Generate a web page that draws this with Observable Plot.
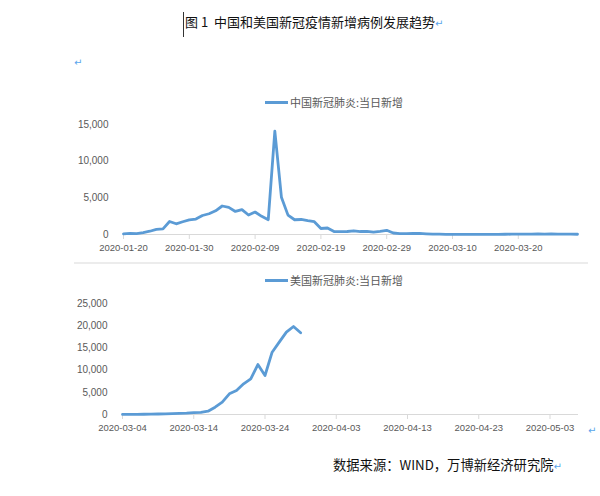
<!DOCTYPE html>
<html>
<head>
<meta charset="utf-8">
<script src="https://cdn.jsdelivr.net/npm/d3@7"></script>
<script src="https://cdn.jsdelivr.net/npm/@observablehq/plot@0.6"></script>
<style>
  html, body { margin: 0; padding: 0; background: #fff; }
  #page { position: relative; width: 600px; height: 496px; overflow: hidden; font-family: "Noto Sans CJK SC", "Noto Sans", sans-serif; }
  .abs { position: absolute; white-space: pre; }
  .para { color: #5aa5ec; font-family: "DejaVu Sans", sans-serif; font-size: 10px; }
  .legline { position: absolute; height: 3px; background: #5b9bd5; }
  .legtext { position: absolute; font-size: 11px; color: #595959; line-height: 14px; white-space: pre; }
</style>
</head>
<body>
<div id="page"></div>
<script>
// ---------- data ----------
const titleText = "图 1  中国和美国新冠疫情新增病例发展趋势";
const sourceText = "数据来源：WIND，万博新经济研究院";
const chinaLabel = "中国新冠肺炎:当日新增";
const usLabel = "美国新冠肺炎:当日新增";

// China daily new cases, consecutive days from 2020-01-20
const chinaStart = "2020-01-20";
const chinaEnd = "2020-03-29";
const chinaNew = [
  77, 149, 131, 259, 444, 688, 769, 1771, 1459, 1737,
  1982, 2102, 2590, 2829, 3235, 3887, 3694, 3143, 3399, 2656,
  3062, 2478, 2015, 14108, 5090, 2641, 2009, 2048, 1886, 1749,
  820, 889, 397, 400, 409, 508, 406, 433, 327, 427,
  573, 202, 125, 119, 139, 143, 99, 44, 40, 19,
  24, 15, 8, 11, 20, 16, 21, 13, 34, 39,
  41, 46, 39, 78, 47, 67, 55, 54, 45, 31
];
const chinaTicks = ["2020-01-20", "2020-01-30", "2020-02-09", "2020-02-19", "2020-02-29", "2020-03-10", "2020-03-20"];
const chinaYTicks = [0, 5000, 10000, 15000];

// US daily new cases, consecutive days from 2020-03-04
const usStart = "2020-03-04";
const usEnd = "2020-05-07";
const usNew = [
  20, 30, 50, 60, 80, 110, 130, 200, 250, 300,
  420, 500, 740, 1650, 2770, 4660, 5400, 6910, 8040, 11260,
  8780, 14030, 16290, 18540, 19820, 18400
];
const usTicks = ["2020-03-04", "2020-03-14", "2020-03-24", "2020-04-03", "2020-04-13", "2020-04-23", "2020-05-03"];
const usYTicks = [0, 5000, 10000, 15000, 20000, 25000];

// ---------- helpers ----------
const parse = d3.utcParse("%Y-%m-%d");
const toRows = (start, values) => values.map((v, i) => ({date: d3.utcDay.offset(parse(start), i), value: v}));

function makeChart({rows, domain, ticks, yTicks, yMax, height, marginTop, marginBottom, marginLeft, marginRight}) {
  return Plot.plot({
    width: 600, height, marginTop, marginBottom, marginLeft, marginRight,
    style: {fontFamily: "'Liberation Sans', Arial, sans-serif", fontSize: "10px", color: "#595959", background: "transparent", overflow: "visible"},
    x: {type: "utc", domain: [parse(domain[0]), parse(domain[1])]},
    y: {domain: [0, yMax]},
    marks: [
      Plot.ruleY([0], {stroke: "#d9d9d9", strokeWidth: 1.2}),
      Plot.axisX(ticks.map(parse), {tickFormat: d3.utcFormat("%Y-%m-%d"), tickSize: 5, tickPadding: 5, stroke: "#d9d9d9", fill: "#595959", fontSize: 9.5, label: null}),
      Plot.axisY(yTicks, {tickFormat: d3.format(","), tickSize: 0, tickPadding: 15, fill: "#595959", fontSize: 10, label: null}),
      Plot.lineY(rows, {x: "date", y: "value", stroke: "#5b9bd5", strokeWidth: 2.8, strokeLinejoin: "round", strokeLinecap: "round"})
    ]
  });
}

// ---------- layout ----------
const page = document.getElementById("page");
function addDiv(cls, css, text) {
  const d = document.createElement("div");
  d.className = cls;
  Object.assign(d.style, css);
  if (text != null) d.textContent = text;
  page.appendChild(d);
  return d;
}

// title with cursor and paragraph mark
addDiv("abs", {left: "183px", top: "12px", width: "1px", height: "25px", background: "#333"});
const titleDiv = addDiv("abs", {left: "185px", top: "12px", fontSize: "13px", lineHeight: "20px", color: "#111"}, titleText);
const pm = document.createElement("span"); pm.className = "para"; pm.textContent = "↵"; titleDiv.appendChild(pm);
addDiv("abs para", {left: "74px", top: "57px"}, "↵");

// top chart
const topWrap = addDiv("abs", {left: "0px", top: "90px"});
topWrap.appendChild(makeChart({
  rows: toRows(chinaStart, chinaNew), domain: [chinaStart, chinaEnd], ticks: chinaTicks, yTicks: chinaYTicks, yMax: 15000,
  height: 170, marginTop: 34, marginBottom: 26, marginLeft: 123, marginRight: 23
}));
addDiv("legline", {left: "265px", top: "101px", width: "23px"});
addDiv("legtext", {left: "290px", top: "95px"}, chinaLabel);

// separator
addDiv("abs", {left: "74px", top: "262px", width: "514px", height: "2px", background: "#ececec"});

// bottom chart
const botWrap = addDiv("abs", {left: "0px", top: "265px"});
botWrap.appendChild(makeChart({
  rows: toRows(usStart, usNew), domain: [usStart, usEnd], ticks: usTicks, yTicks: usYTicks, yMax: 25000,
  height: 175, marginTop: 38, marginBottom: 26, marginLeft: 122, marginRight: 22
}));
addDiv("legline", {left: "265px", top: "279px", width: "23px"});
addDiv("legtext", {left: "290px", top: "273px"}, usLabel);
addDiv("abs para", {left: "588px", top: "425px"}, "↵");

// source
const srcDiv = addDiv("abs", {left: "333px", top: "456px", fontSize: "13.3px", lineHeight: "18px", color: "#111"}, sourceText);
const pm2 = document.createElement("span"); pm2.className = "para"; pm2.textContent = "↵"; srcDiv.appendChild(pm2);
</script>
</body>
</html>
